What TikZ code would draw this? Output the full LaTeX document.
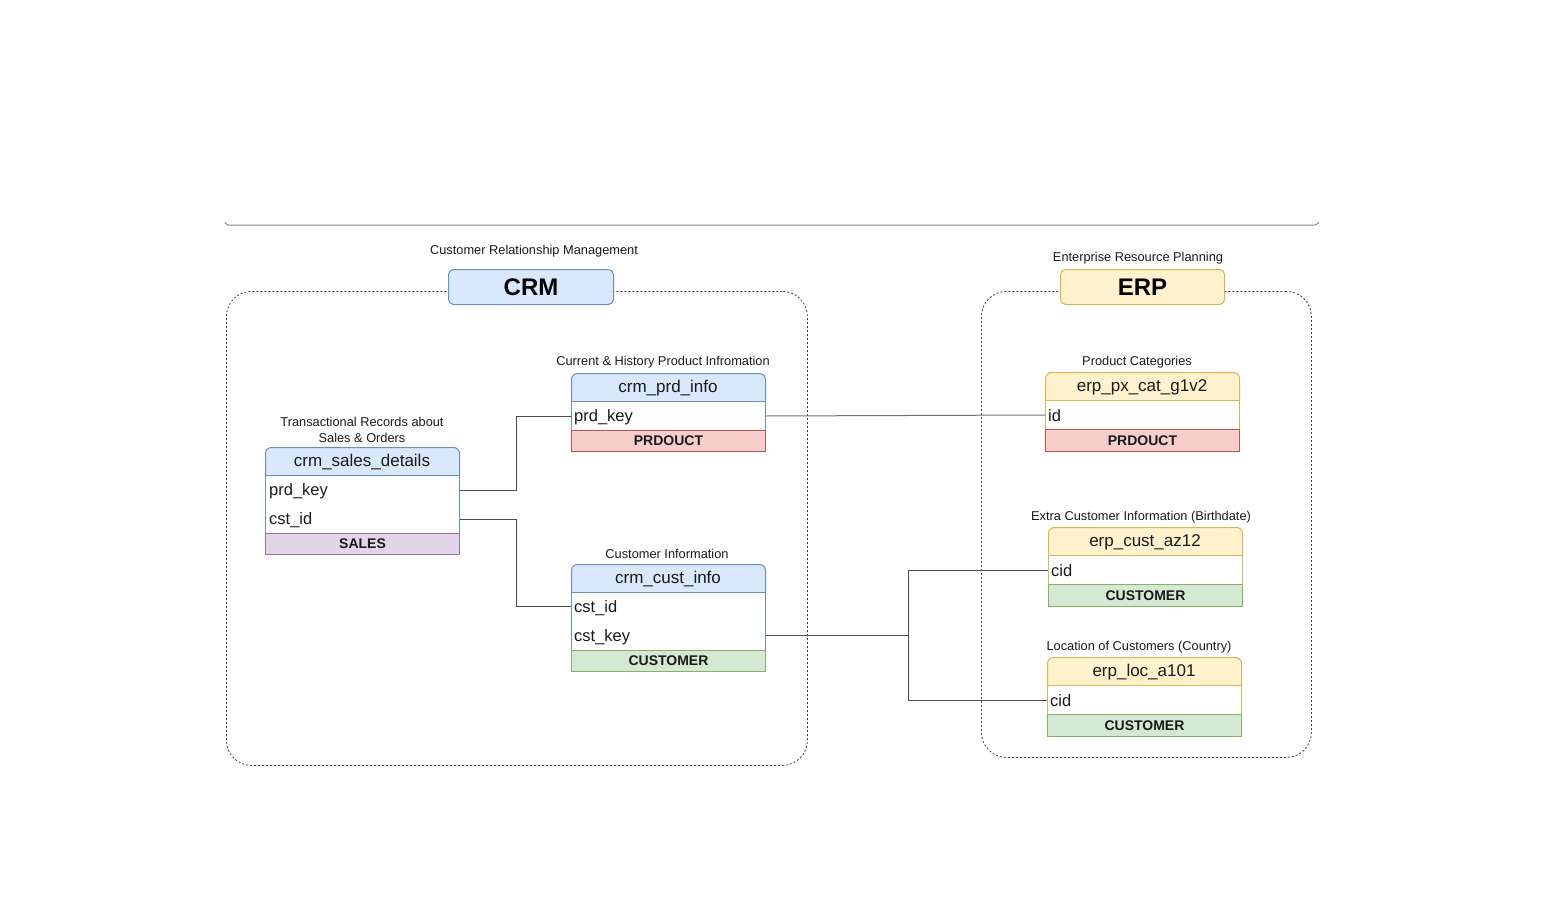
\documentclass[tikz,border=0pt]{standalone}
\usepackage{fontspec}
\setmainfont{Liberation Sans}
\definecolor{bfill}{HTML}{DAE8FC}\definecolor{bline}{HTML}{6C8EBF}
\definecolor{yfill}{HTML}{FFF2CC}\definecolor{yline}{HTML}{D6B656}
\definecolor{rfill}{HTML}{F8CECC}\definecolor{rline}{HTML}{B85450}
\definecolor{gfill}{HTML}{D5E8D4}\definecolor{gline}{HTML}{82B366}
\definecolor{pfill}{HTML}{E1D5E7}\definecolor{pline}{HTML}{9673A6}
\definecolor{connc}{HTML}{4D4D4D}
\definecolor{txt}{HTML}{1A1A1A}
\tikzset{
  cont/.style={draw=black!75, dash pattern=on 2pt off 2pt, line width=0.8pt, rounded corners=25pt, inner sep=0pt, anchor=north west},
  titlebox/.style={rounded corners=5pt, line width=1pt, inner sep=0pt, minimum width=165pt, minimum height=35pt, font=\fontsize{24}{28}\selectfont\bfseries, text=black, anchor=north west},
  hdr/.style={rounded corners=6pt, line width=1pt, inner sep=0pt, minimum width=194pt, minimum height=34pt, anchor=north west},
  hdrtext/.style={font=\fontsize{17}{20}\selectfont, text=txt, inner sep=0pt},
  tbody/.style={fill=white, line width=1pt, inner sep=0pt, minimum width=194pt, anchor=north west},
  rowtext/.style={font=\fontsize{16.5}{20}\selectfont, text=txt, inner sep=0pt, anchor=west},
  foot/.style={line width=1pt, inner sep=0pt, minimum width=194pt, minimum height=21pt, anchor=north west, font=\fontsize{14}{16}\selectfont\bfseries, text=txt},
  lbl/.style={font=\fontsize{12.8}{16}\selectfont, text=txt, inner sep=0pt, align=center},
  conn/.style={draw=connc, line width=1pt},
}
\begin{document}
\begin{tikzpicture}[x=1pt,y=-1pt]
\useasboundingbox (0,0) rectangle (1544,912);
% top line
\draw[black!45, line width=1pt, rounded corners=2pt] (225,222) -- (226,225) -- (1317,225) -- (1319,222);
% containers
\node[cont, minimum width=581pt, minimum height=474pt] (crmC) at (226,291) {};
\node[cont, minimum width=330pt, minimum height=466pt] (erpC) at (981,291) {};
% title boxes
\node[lbl] (crmL) at (534,251.5) {Customer Relationship Management};
\node[titlebox, fill=bfill, draw=bline] (crmT) at (448,269) {CRM};
\node[lbl] (erpL) at (1138,258.5) {Enterprise Resource Planning};
\node[titlebox, fill=yfill, draw=yline, minimum width=164pt] (erpT) at (1060,269) {ERP};

% ---- crm_prd_info
\node[lbl] (piL) at (663,362.5) {Current \& History Product Infromation};
\node[hdr, fill=bfill, draw=bline] (piH) at (571,373) {};
\node[tbody, draw=bline, minimum height=50pt] (piB) at (571,401) {};
\node[hdrtext] (piT) at (668,388) {crm\_prd\_info};
\node[rowtext] (piR1) at (574,417) {prd\_key};
\node[foot, fill=rfill, draw=rline] (piF) at (571,430) {PRDOUCT};

% ---- crm_sales_details
\node[lbl] (sdL) at (362,429.5) {Transactional Records about\\Sales \& Orders};
\node[hdr, fill=bfill, draw=bline] (sdH) at (265,447) {};
\node[tbody, draw=bline, minimum height=79pt] (sdB) at (265,475) {};
\node[hdrtext] (sdT) at (362,462) {crm\_sales\_details};
\node[rowtext] (sdR1) at (269,491) {prd\_key};
\node[rowtext] (sdR2) at (269,520) {cst\_id};
\node[foot, fill=pfill, draw=pline] (sdF) at (265,533) {SALES};

% ---- crm_cust_info
\node[lbl] (ciL) at (667,553.5) {Customer Information};
\node[hdr, fill=bfill, draw=bline] (ciH) at (571,564) {};
\node[tbody, draw=bline, minimum height=79pt] (ciB) at (571,592) {};
\node[hdrtext] (ciT) at (668,579) {crm\_cust\_info};
\node[rowtext] (ciR1) at (574,608) {cst\_id};
\node[rowtext] (ciR2) at (574,637) {cst\_key};
\node[foot, fill=gfill, draw=gline] (ciF) at (571,650) {CUSTOMER};

% ---- erp_px_cat_g1v2
\node[lbl] (pcL) at (1137,362.5) {Product Categories};
\node[hdr, fill=yfill, draw=yline] (pcH) at (1045,372) {};
\node[tbody, draw=yline, minimum height=51pt] (pcB) at (1045,400) {};
\node[hdrtext] (pcT) at (1142,387) {erp\_px\_cat\_g1v2};
\node[rowtext] (pcR1) at (1048,416) {id};
\node[foot, fill=rfill, draw=rline, minimum height=22pt] (pcF) at (1045,429) {PRDOUCT};

% ---- erp_cust_az12
\node[lbl] (caL) at (1141,517.5) {Extra Customer Information (Birthdate)};
\node[hdr, fill=yfill, draw=yline] (caH) at (1048,527) {};
\node[tbody, draw=yline, minimum height=51pt] (caB) at (1048,555) {};
\node[hdrtext] (caT) at (1145,542) {erp\_cust\_az12};
\node[rowtext] (caR1) at (1051,571) {cid};
\node[foot, fill=gfill, draw=gline, minimum height=22pt] (caF) at (1048,584) {CUSTOMER};

% ---- erp_loc_a101
\node[lbl] (laL) at (1139,647.5) {Location of Customers (Country)};
\node[hdr, fill=yfill, draw=yline] (laH) at (1047,657) {};
\node[tbody, draw=yline, minimum height=51pt] (laB) at (1047,685) {};
\node[hdrtext] (laT) at (1144,672) {erp\_loc\_a101};
\node[rowtext] (laR1) at (1050,701) {cid};
\node[foot, fill=gfill, draw=gline, minimum height=22pt] (laF) at (1047,714) {CUSTOMER};

% ---- connectors
\draw[conn] (sdB.east |- 0,490) -- ++(56,0) |- (piB.west |- 0,416);
\draw[conn] (sdB.east |- 0,519) -- ++(56,0) |- (ciB.west |- 0,606);
\draw[conn, draw=black!55] (piB.east |- 0,416) -- (pcB.west |- 0,415);
\draw[conn] (ciB.east |- 0,635) -- ++(142,0) coordinate (jn) |- (caB.west |- 0,570);
\draw[conn] (jn) |- (laB.west |- 0,700);
\end{tikzpicture}
\end{document}
